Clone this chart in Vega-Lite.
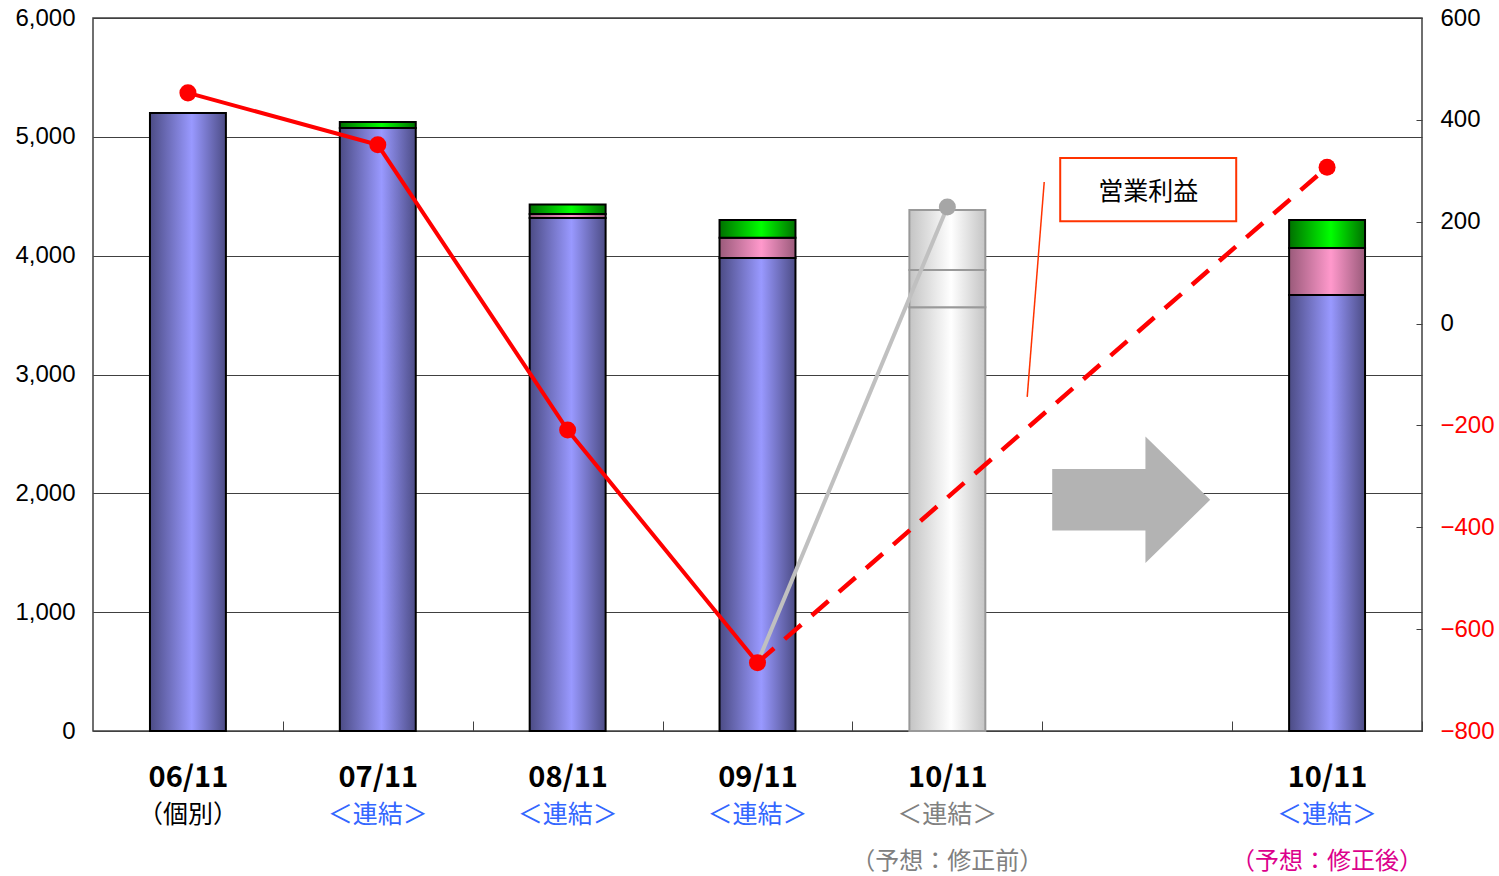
{
  "$schema": "https://vega.github.io/schema/vega-lite/v6.json",
  "width": 1329,
  "height": 713,
  "autosize": {"type": "none"},
  "padding": {"left": 93, "top": 18, "right": 77, "bottom": 145},
  "background": "white",
  "config": {"view": {"stroke": "#404040", "strokeWidth": 1.5}, "font": "Noto Sans CJK JP"},
  "datasets": {
    "bars": [
      {"slot": "06", "seg": "s1", "value": 5200},
      {"slot": "07", "seg": "s1", "value": 5075},
      {"slot": "07", "seg": "s3", "value": 50},
      {"slot": "08", "seg": "s1", "value": 4317},
      {"slot": "08", "seg": "s2", "value": 33},
      {"slot": "08", "seg": "s3", "value": 80},
      {"slot": "09", "seg": "s1", "value": 3980},
      {"slot": "09", "seg": "s2", "value": 170},
      {"slot": "09", "seg": "s3", "value": 150},
      {"slot": "10b", "seg": "s1", "value": 3565},
      {"slot": "10b", "seg": "s2", "value": 315},
      {"slot": "10b", "seg": "s3", "value": 505},
      {"slot": "10a", "seg": "s1", "value": 3670},
      {"slot": "10a", "seg": "s2", "value": 395},
      {"slot": "10a", "seg": "s3", "value": 235}
    ],
    "op": [
      {"slot": "06", "op": 453, "kind": "actual"},
      {"slot": "07", "op": 351, "kind": "actual"},
      {"slot": "08", "op": -209, "kind": "actual"},
      {"slot": "09", "op": -666, "kind": "actual"},
      {"slot": "10b", "op": 229, "kind": "before"},
      {"slot": "10a", "op": 307, "kind": "after"}
    ]
  },
  "layer": [
    {
      "data": {"name": "bars"},
      "mark": {"type": "bar", "strokeWidth": 2},
      "encoding": {
        "x": {
          "field": "slot", "type": "nominal",
          "scale": {"domain": ["06", "07", "08", "09", "10b", "gap", "10a"], "paddingInner": 0.6, "paddingOuter": 0.3},
          "axis": {
            "title": null, "labelAngle": 0, "orient": "bottom",
            "labelExpr": "indexof(['06','07','08','09'], datum.value) >= 0 ? datum.value + '/11' : (datum.value === '10b' || datum.value === '10a') ? '10/11' : ''",
            "labelFont": "Noto Sans CJK JP", "labelFontSize": 29, "labelFontWeight": "bold", "labelColor": "#000000",
            "labelPadding": 42, "ticks": true, "tickSize": -10, "tickColor": "#404040", "tickWidth": 1,
            "tickOffset": 94.93, "labelOffset": -94.93,
            "domain": false, "grid": false, "labelOverlap": false, "labelBound": false, "labelLimit": 400
          }
        },
        "y": {
          "field": "value", "type": "quantitative", "stack": "zero",
          "scale": {"domain": [0, 6000], "nice": false},
          "axis": {
            "title": null, "values": [0, 1000, 2000, 3000, 4000, 5000, 6000], "format": ",.0f",
            "labelFont": "Liberation Sans", "labelFontSize": 24, "labelColor": "#000000",
            "tickSize": -6, "tickColor": "#404040", "labelPadding": 24,
            "grid": true, "gridColor": "#404040", "gridWidth": 1, "domain": false
          }
        },
        "order": {"field": "seg", "type": "ordinal", "sort": "ascending"},
        "fill": {
          "condition": [
            {"test": "datum.slot === '10b'", "value": {"gradient": "linear", "x1": 0, "y1": 0, "x2": 1, "y2": 0, "stops": [{"offset": 0, "color": "#c4c4c4"}, {"offset": 0.55, "color": "#ffffff"}, {"offset": 1, "color": "#c4c4c4"}]}},
            {"test": "datum.seg === 's1'", "value": {"gradient": "linear", "x1": 0, "y1": 0, "x2": 1, "y2": 0, "stops": [{"offset": 0, "color": "#4c4c85"}, {"offset": 0.55, "color": "#9999ff"}, {"offset": 1, "color": "#4c4c85"}]}},
            {"test": "datum.seg === 's2'", "value": {"gradient": "linear", "x1": 0, "y1": 0, "x2": 1, "y2": 0, "stops": [{"offset": 0, "color": "#9a5a7a"}, {"offset": 0.55, "color": "#ff99cc"}, {"offset": 1, "color": "#9a5a7a"}]}}
          ],
          "value": {"gradient": "linear", "x1": 0, "y1": 0, "x2": 1, "y2": 0, "stops": [{"offset": 0, "color": "#007000"}, {"offset": 0.55, "color": "#00ff00"}, {"offset": 1, "color": "#007000"}]}
        },
        "stroke": {"condition": {"test": "datum.slot === '10b'", "value": "#999999"}, "value": "#000000"}
      }
    },
    {
      "data": {"name": "op"},
      "layer": [
        {
          "transform": [{"filter": "datum.slot === '09' || datum.slot === '10b'"}],
          "mark": {"type": "line", "color": "#c0c0c0", "strokeWidth": 4},
          "encoding": {
            "x": {
              "field": "slot", "type": "nominal",
              "scale": {"domain": ["06", "07", "08", "09", "10b", "gap", "10a"], "paddingInner": 0.6, "paddingOuter": 0.3},
              "axis": {
                "title": null, "labelAngle": 0, "orient": "bottom",
                "labelExpr": "datum.value === '06' ? '（個別）' : indexof(['07','08','09','10b','10a'], datum.value) >= 0 ? '＜連結＞' : ''",
                "labelFont": "Noto Sans CJK JP", "labelFontSize": 25,
                "labelColor": {"condition": [{"test": "datum.value === '06'", "value": "#000000"}, {"test": "datum.value === '10b'", "value": "#808080"}], "value": "#3366ff"},
                "labelPadding": 71, "ticks": false, "domain": false, "grid": false, "labelOverlap": false, "labelBound": false, "labelLimit": 400
              }
            },
            "y": {
              "field": "op", "type": "quantitative",
              "scale": {"domain": [-800, 600], "nice": false},
              "axis": {
                "title": null, "orient": "right", "values": [-800, -600, -400, -200, 0, 200, 400, 600], "format": ",.0f",
                "labelFont": "Liberation Sans", "labelFontSize": 24,
                "labelColor": {"condition": {"test": "datum.value < 0", "value": "#ff0000"}, "value": "#000000"},
                "tickSize": -6, "tickColor": "#404040", "labelPadding": 24, "grid": false, "domain": false
              }
            }
          }
        },
        {
          "transform": [{"filter": "datum.kind === 'actual'"}],
          "mark": {"type": "line", "color": "#ff0000", "strokeWidth": 4},
          "encoding": {
            "x": {"field": "slot", "type": "nominal"},
            "y": {"field": "op", "type": "quantitative"}
          }
        },
        {
          "transform": [{"filter": "datum.slot === '09' || datum.slot === '10a'"}],
          "mark": {"type": "line", "color": "#ff0000", "strokeWidth": 4.5, "strokeDash": [22, 14]},
          "encoding": {
            "x": {"field": "slot", "type": "nominal"},
            "y": {"field": "op", "type": "quantitative"}
          }
        },
        {
          "mark": {"type": "point", "filled": true, "size": 290, "opacity": 1},
          "encoding": {
            "x": {"field": "slot", "type": "nominal"},
            "y": {"field": "op", "type": "quantitative"},
            "color": {"condition": {"test": "datum.kind === 'before'", "value": "#a6a6a6"}, "value": "#ff0000"}
          }
        }
      ]
    },
    {
      "data": {"values": [{}]},
      "layer": [
        {
          "mark": {"type": "point", "shape": "M -1 -0.39 L 0.18 -0.39 L 0.18 -0.8 L 1 0 L 0.18 0.8 L 0.18 0.39 L -1 0.39 Z", "size": 24964, "filled": true, "color": "#b3b3b3", "opacity": 1, "strokeWidth": 0, "xOffset": -6},
          "encoding": {
            "x": {
              "datum": "gap", "type": "nominal",
              "scale": {"domain": ["06", "07", "08", "09", "10b", "gap", "10a"], "paddingInner": 0.6, "paddingOuter": 0.3},
              "axis": {
                "title": null, "labelAngle": 0, "orient": "bottom",
                "labelExpr": "datum.value === '10b' ? '（予想：修正前）' : datum.value === '10a' ? '（予想：修正後）' : ''",
                "labelFont": "Noto Sans CJK JP", "labelFontSize": 24,
                "labelColor": {"condition": {"test": "datum.value === '10a'", "value": "#dc008c"}, "value": "#808080"},
                "labelPadding": 118, "ticks": false, "domain": false, "grid": false, "labelOverlap": false, "labelBound": false, "labelLimit": 400
              }
            },
            "y": {"datum": -346, "type": "quantitative", "scale": {"domain": [-800, 600], "nice": false}, "axis": null}
          }
        },
        {
          "mark": {"type": "rule", "color": "#ff3300", "strokeWidth": 1.5, "xOffset": -93, "x2Offset": -110},
          "encoding": {
            "x": {"datum": "gap", "type": "nominal"},
            "x2": {"datum": "gap"},
            "y": {"datum": 278, "type": "quantitative"},
            "y2": {"datum": -144}
          }
        },
        {
          "mark": {"type": "bar", "fill": "#ffffff", "stroke": "#ff3300", "strokeWidth": 2, "width": 176, "xOffset": 11},
          "encoding": {
            "x": {"datum": "gap", "type": "nominal"},
            "y": {"datum": 325, "type": "quantitative"},
            "y2": {"datum": 201}
          }
        },
        {
          "mark": {"type": "text", "text": "営業利益", "font": "Noto Sans CJK JP", "fontSize": 25, "color": "#000000", "xOffset": 11, "baseline": "middle", "align": "center"},
          "encoding": {
            "x": {"datum": "gap", "type": "nominal"},
            "y": {"datum": 258, "type": "quantitative"}
          }
        }
      ]
    }
  ],
  "resolve": {"scale": {"y": "independent"}, "axis": {"x": "independent", "y": "independent"}}
}
